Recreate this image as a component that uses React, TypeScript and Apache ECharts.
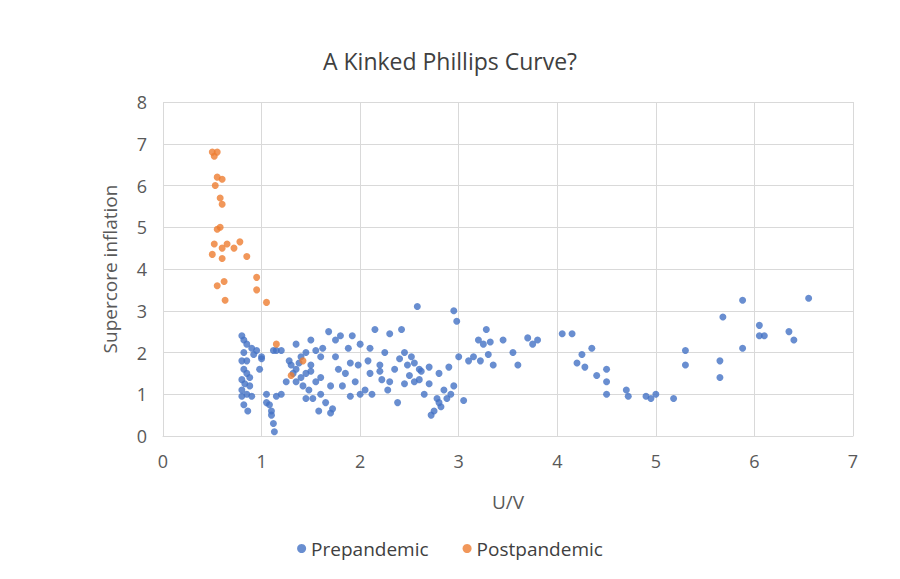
import React, { useEffect, useRef } from "react";
import * as echarts from "echarts";

const prepandemic: number[][] = [
[0.8,2.4],[0.82,2.3],[0.85,2.2],[0.8,1.8],[0.85,1.8],[0.82,1.6],[0.85,1.5],[0.8,1.35],[0.83,1.25],[0.8,1.1],[0.85,1.0],[0.8,0.95],[0.82,0.75],[0.86,0.6],[0.88,1.2],[0.9,2.1],[0.92,1.95],[0.95,2.05],[0.98,1.6],[1.0,1.9],[1.05,1.0],[1.08,0.75],[1.1,0.6],[1.1,0.5],[1.12,0.3],[1.13,0.1],[1.05,0.8],[1.12,2.05],[1.15,2.05],[1.2,2.05],[1.15,0.95],[1.2,1.0],[1.25,1.3],[1.28,1.8],[1.3,1.7],[1.32,1.5],[1.35,1.6],[1.35,2.2],[1.38,1.75],[1.4,1.4],[1.4,1.9],[1.42,1.2],[1.45,1.5],[1.45,2.0],[1.48,1.1],[1.5,2.3],[1.5,1.7],[1.52,0.9],[1.55,1.3],[1.55,2.05],[1.58,0.6],[1.6,1.9],[1.6,1.4],[1.62,2.1],[1.65,0.8],[1.68,2.5],[1.7,0.55],[1.72,0.65],[1.75,1.9],[1.78,1.6],[1.8,2.4],[1.82,1.2],[1.85,1.5],[1.88,2.1],[1.9,0.95],[1.92,2.4],[1.95,1.3],[1.98,1.7],[2.0,2.2],[2.05,1.1],[2.08,1.8],[2.1,1.5],[2.12,1.0],[2.15,2.55],[2.2,1.7],[2.22,1.35],[2.25,2.0],[2.28,1.1],[2.3,2.45],[2.35,1.6],[2.38,0.8],[2.4,1.85],[2.42,2.55],[2.45,1.25],[2.48,1.7],[2.5,1.45],[2.52,1.9],[2.55,1.3],[2.58,3.1],[2.6,1.6],[2.62,1.55],[2.65,1.0],[2.7,1.65],[2.72,0.5],[2.75,0.6],[2.78,0.9],[2.8,1.5],[2.82,0.7],[2.85,1.1],[2.88,0.9],[2.9,1.65],[2.92,1.0],[2.95,1.2],[2.95,3.0],[2.98,2.75],[3.0,1.9],[3.05,0.85],[3.1,1.8],[3.15,1.9],[3.2,2.3],[3.22,1.8],[3.25,2.2],[3.28,2.55],[3.3,1.95],[3.32,2.25],[3.35,1.7],[3.45,2.3],[3.55,2.0],[3.6,1.7],[3.7,2.35],[3.75,2.2],[3.8,2.3],[4.05,2.45],[4.15,2.45],[4.2,1.75],[4.25,1.95],[4.28,1.65],[4.35,2.1],[4.4,1.45],[4.5,1.3],[4.5,1.6],[4.5,1.0],[4.7,1.1],[4.72,0.95],[4.9,0.95],[4.95,0.9],[5.0,1.0],[5.18,0.9],[5.3,2.05],[5.3,1.7],[5.65,1.8],[5.65,1.4],[5.68,2.85],[5.88,3.25],[5.88,2.1],[6.05,2.65],[6.05,2.4],[6.1,2.4],[6.35,2.5],[6.4,2.3],[6.55,3.3],
[0.82,2.0],[0.88,1.4],[0.9,0.95],[1.0,1.85],[1.6,1.0],[1.7,1.2],[1.75,2.3],[2.0,1.0],[2.1,2.1],[2.3,1.3],[2.45,2.0],[2.6,1.35],[2.7,1.25],[1.35,1.3],[1.5,1.55],[1.45,0.9],[2.2,1.55],[2.55,1.75],[1.9,1.75],[2.8,0.8]
];

const postpandemic: number[][] = [
[0.5,6.8],[0.55,6.8],[0.52,6.7],[0.55,6.2],[0.6,6.15],[0.53,6.0],[0.58,5.7],[0.6,5.55],[0.55,4.95],[0.58,5.0],[0.52,4.6],[0.5,4.35],[0.6,4.5],[0.65,4.6],[0.72,4.5],[0.78,4.65],[0.85,4.3],[0.6,4.25],[0.62,3.7],[0.55,3.6],[0.63,3.25],[0.95,3.8],[0.95,3.5],[1.05,3.2],[1.15,2.2],[1.3,1.45],[1.42,1.8]
];

export default function App() {
  const ref = useRef<HTMLDivElement>(null);
  useEffect(() => {
    const chart = echarts.init(ref.current!, null, { renderer: "svg" });
    const font = "Open Sans, Noto Sans, sans-serif";
    chart.setOption({
      animation: false,
      textStyle: { fontFamily: font },
      title: { text: "A Kinked Phillips Curve?", left: "center", top: 36, textStyle: { fontSize: 23, fontWeight: "normal", color: "#404040", fontFamily: font } },
      grid: { left: 155, right: 39, top: 94, bottom: 135 },
      legend: { bottom: 8, left: "center", itemGap: 34, icon: "circle", itemWidth: 9, itemHeight: 9, textStyle: { fontSize: 19, color: "#404040" }, data: ["Prepandemic", "Postpandemic"] },
      xAxis: { type: "value", min: 0, max: 7, interval: 1, name: "U/V", nameLocation: "middle", nameGap: 56, nameTextStyle: { fontSize: 19, color: "#595959" },
        axisLine: { lineStyle: { color: "#d9d9d9" } }, axisTick: { show: false }, axisLabel: { fontSize: 18, color: "#595959", margin: 16 }, splitLine: { lineStyle: { color: "#d9d9d9" } } },
      yAxis: { type: "value", min: 0, max: 8, interval: 1, name: "Supercore inflation", nameLocation: "middle", nameGap: 44, nameTextStyle: { fontSize: 19, color: "#595959" },
        axisLine: { show: false }, axisTick: { show: false }, axisLabel: { fontSize: 18, color: "#595959", margin: 16 }, splitLine: { lineStyle: { color: "#d9d9d9" } } },
      series: [
        { name: "Prepandemic", type: "scatter", data: prepandemic, symbolSize: 7, itemStyle: { color: "#4472C4" } },
        { name: "Postpandemic", type: "scatter", data: postpandemic, symbolSize: 7, itemStyle: { color: "#ED7D31" } },
      ],
    });
    return () => chart.dispose();
  }, []);
  return <div ref={ref} style={{ width: 884, height: 563 }} />;
}
